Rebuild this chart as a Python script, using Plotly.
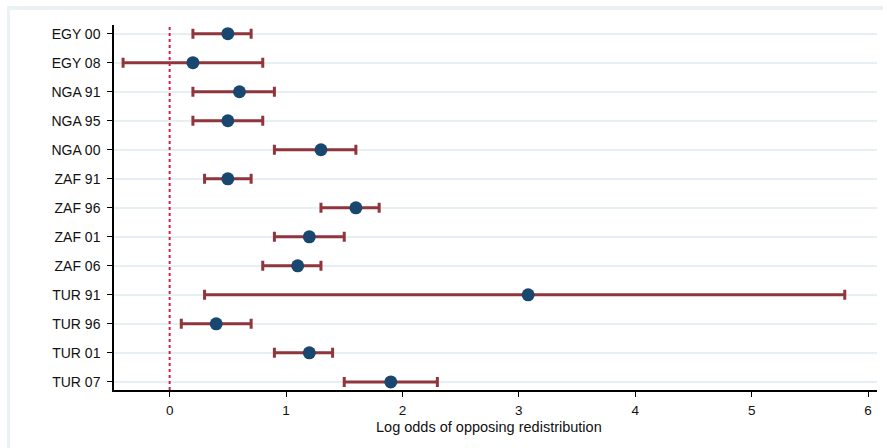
import plotly.graph_objects as go

# Survey waves and estimated log odds of opposing redistribution
waves = ["EGY 00", "EGY 08", "NGA 91", "NGA 95", "NGA 00", "ZAF 91", "ZAF 96",
         "ZAF 01", "ZAF 06", "TUR 91", "TUR 96", "TUR 01", "TUR 07"]
estimate = [0.5, 0.2, 0.6, 0.5, 1.3, 0.5, 1.6, 1.2, 1.1, 3.08, 0.4, 1.2, 1.9]
ci_low = [0.2, -0.4, 0.2, 0.2, 0.9, 0.3, 1.3, 0.9, 0.8, 0.3, 0.1, 0.9, 1.5]
ci_high = [0.7, 0.8, 0.9, 0.8, 1.6, 0.7, 1.8, 1.5, 1.3, 5.8, 0.7, 1.4, 2.3]
x_ticks = [0, 1, 2, 3, 4, 5, 6]
x_title = "Log odds of opposing redistribution"

NAVY = "#1a476f"
MAROON = "#90353b"
GRID = "#e6eff1"
FRAME = "#eaf2f3"

W, H = 883, 448
ML, MR, MT, MB = 114, 6, 25, 58
pw, ph = W - ML - MR, H - MT - MB


def px_x(p):
    return (p - ML) / pw


def px_y(p):
    return 1 - (p - MT) / ph


fig = go.Figure()
fig.add_trace(go.Scatter(
    x=estimate,
    y=waves,
    mode="markers",
    marker=dict(color=NAVY, size=13, line=dict(width=0)),
    error_x=dict(
        type="data",
        symmetric=False,
        array=[h - e for h, e in zip(ci_high, estimate)],
        arrayminus=[e - l for e, l in zip(estimate, ci_low)],
        color=MAROON,
        thickness=3,
        width=5,
    ),
    showlegend=False,
    cliponaxis=False,
))

# Reference line at zero
fig.add_shape(type="line", xref="x", yref="paper", x0=0, x1=0, y0=0, y1=1,
              line=dict(color="#d0204c", width=2, dash="dot"), layer="above")

# Graph region: thin tinted frame at top/left, white inside
fig.add_shape(type="rect", xref="paper", yref="paper",
              x0=px_x(7), x1=px_x(W + 20), y0=px_y(H + 20), y1=px_y(6),
              fillcolor=FRAME, line=dict(width=0), layer="below")
fig.add_shape(type="rect", xref="paper", yref="paper",
              x0=px_x(10), x1=px_x(W + 20), y0=px_y(H + 20), y1=px_y(10),
              fillcolor="white", line=dict(width=0), layer="below")

# Axis title
fig.add_annotation(text=x_title, xref="paper", yref="paper",
                   x=px_x(489), y=px_y(427), showarrow=False,
                   xanchor="center", yanchor="middle",
                   font=dict(size=14.5, color="#111111"))

fig.update_layout(
    width=W,
    height=H,
    margin=dict(l=ML, r=MR, t=MT, b=MB),
    paper_bgcolor="white",
    plot_bgcolor="rgba(0,0,0,0)",
    font=dict(family="Liberation Sans, Arial, sans-serif", size=14, color="#111111"),
    xaxis=dict(
        range=[-0.478, 6.077],
        tickvals=x_ticks,
        ticktext=[str(t) for t in x_ticks],
        ticks="outside",
        ticklen=5,
        tickwidth=1.2,
        tickcolor="black",
        showline=True,
        linecolor="black",
        linewidth=1.5,
        showgrid=False,
        zeroline=False,
        tickfont=dict(size=13.5),
        ticklabelstandoff=2,
    ),
    yaxis=dict(
        type="category",
        categoryorder="array",
        categoryarray=waves,
        range=[12.28, -0.3],
        ticks="outside",
        ticklen=5,
        tickwidth=1.2,
        tickcolor="black",
        showline=True,
        linecolor="black",
        linewidth=1.5,
        showgrid=True,
        gridcolor=GRID,
        gridwidth=1.5,
        zeroline=False,
        tickfont=dict(size=14),
        ticklabelstandoff=4,
    ),
)

fig.write_html("out.html")
